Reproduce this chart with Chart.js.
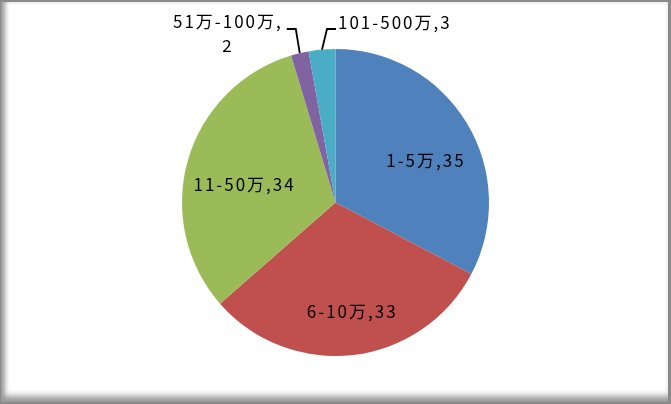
<!DOCTYPE html>
<html>
<head>
<meta charset="utf-8">
<script src="https://cdn.jsdelivr.net/npm/chart.js@4"></script>
<style>
  html, body { margin: 0; padding: 0; background: #fff; }
  #wrap { position: relative; width: 671px; height: 404px; overflow: hidden; background: #fff; }
  #c { position: absolute; left: 0; top: 0; }
  #frame {
    position: absolute; left: 0; top: 0; width: 671px; height: 404px; box-sizing: border-box;
    border-top: 2px solid #8a8a8a; border-right: 3px solid #8a8a8a; border-bottom: 2px solid #8a8a8a; border-left: 1px solid #8a8a8a;
    box-shadow: inset 6px 0 5px -2px #9a9a9a, inset 0 -9px 6px -3px #9a9a9a;
    pointer-events: none;
  }
</style>
</head>
<body>
<div id="wrap">
  <canvas id="c" width="671" height="404"></canvas>
  <div id="frame"></div>
</div>
<script>
const categories = ["1-5万", "6-10万", "11-50万", "51万-100万", "101-500万"];
const values = [35, 33, 34, 2, 3];
const colors = ["#4F81BD", "#C0504D", "#9BBB59", "#8064A2", "#4BACC6"];

const FONT = '17px "Noto Sans CJK JP", "Noto Sans", sans-serif';

const labelPlugin = {
  id: 'sliceLabels',
  afterDatasetsDraw(chart) {
    const ctx = chart.ctx;
    const meta = chart.getDatasetMeta(0);
    ctx.save();
    ctx.font = FONT;
    if ('letterSpacing' in ctx) ctx.letterSpacing = '2px';
    ctx.fillStyle = '#000';
    ctx.textBaseline = 'middle';
    const total = values.reduce((a, b) => a + b, 0);
    meta.data.forEach((arc, i) => {
      const p = arc.getProps(['x', 'y', 'startAngle', 'endAngle', 'outerRadius'], true);
      const mid = (p.startAngle + p.endAngle) / 2;
      const cos = Math.cos(mid), sin = Math.sin(mid);
      const text = categories[i] + ',' + values[i];
      if (values[i] / total > 0.1) {
        const r = p.outerRadius * 0.65;
        ctx.textAlign = 'center';
        ctx.fillText(text, p.x + cos * r + 5, p.y + sin * r + 10);
      } else {
        const ex = p.x + cos * p.outerRadius;
        const ey = p.y + sin * p.outerRadius;
        const elbowY = p.y - p.outerRadius - 20;
        const toRight = (i === values.length - 1);
        const elbowX = ex + (toRight ? 5 : -4);
        const endX = elbowX + (toRight ? 9 : -9);
        ctx.strokeStyle = '#000';
        ctx.lineWidth = 1.8;
        ctx.beginPath();
        ctx.moveTo(ex, ey);
        ctx.lineTo(elbowX, elbowY);
        ctx.lineTo(endX, elbowY);
        ctx.stroke();
        if (toRight) {
          ctx.textAlign = 'left';
          ctx.fillText(text, endX + 2, elbowY - 6);
        } else {
          const line1 = categories[i] + ',';
          const line2 = String(values[i]);
          const w = ctx.measureText(line1).width;
          const right = endX - 4;
          const cx = right - w / 2;
          ctx.textAlign = 'center';
          ctx.fillText(line1, cx, elbowY - 7);
          ctx.fillText(line2, cx, elbowY + 17);
        }
      }
    });
    ctx.restore();
  }
};

new Chart(document.getElementById('c'), {
  type: 'pie',
  data: {
    labels: categories,
    datasets: [{
      data: values,
      backgroundColor: colors,
      borderWidth: 0
    }]
  },
  options: {
    responsive: false,
    animation: false,
    layout: { padding: { top: 49, bottom: 48, left: 0, right: 0 } },
    plugins: {
      legend: { display: false },
      tooltip: { enabled: false }
    }
  },
  plugins: [labelPlugin]
});
</script>
</body>
</html>
